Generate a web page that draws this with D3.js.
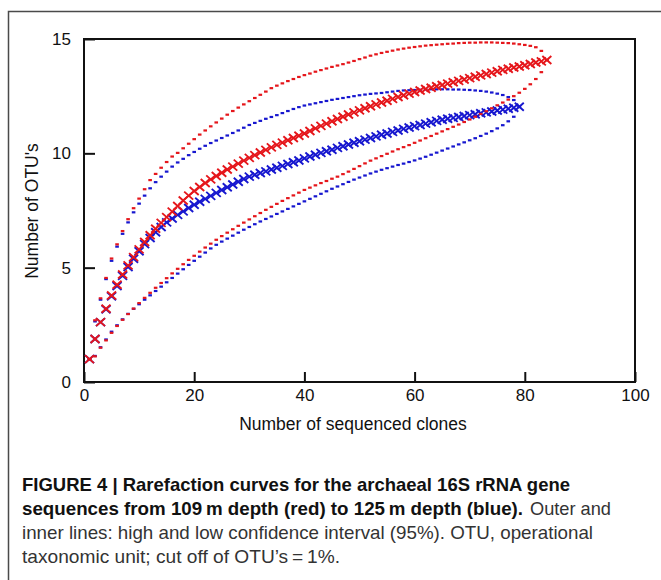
<!DOCTYPE html>
<html>
<head>
<meta charset="utf-8">
<script src="https://cdn.jsdelivr.net/npm/d3@7"></script>
<style>
  body { margin: 0; background: #fff; }
  svg { display: block; font-family: "Liberation Sans", Arial, sans-serif; }
</style>
</head>
<body>
<div id="viz"></div>
<script>
// OTU counts per number of sequenced clones (1, 2, 3, ...)
const red109Mean = [1.00,1.88,2.62,3.20,3.78,4.25,4.70,5.10,5.46,5.80,6.12,6.42,6.70,6.96,7.21,7.45,7.70,7.94,8.15,8.35,
  8.53,8.70,8.86,9.01,9.15,9.29,9.42,9.55,9.68,9.80,9.92,10.04,10.15,10.26,10.37,10.47,10.57,10.67,10.77,10.87,
  10.98,11.09,11.20,11.30,11.40,11.50,11.60,11.70,11.79,11.88,11.97,12.06,12.14,12.22,12.30,12.38,12.46,12.54,12.61,12.68,
  12.75,12.81,12.87,12.93,12.99,13.05,13.11,13.17,13.23,13.29,13.35,13.41,13.47,13.53,13.59,13.65,13.70,13.75,13.80,13.85,
  13.91,13.97,14.02,14.08];
const red109Upper = [1.00,2.70,3.66,4.55,5.40,6.02,6.60,7.12,7.60,8.02,8.43,8.83,9.10,9.37,9.62,9.86,10.02,10.22,10.42,10.62,
  10.82,11.00,11.18,11.35,11.52,11.69,11.85,12.00,12.14,12.28,12.42,12.56,12.70,12.85,12.96,13.06,13.16,13.25,13.34,13.42,
  13.49,13.57,13.64,13.71,13.78,13.84,13.90,13.97,14.04,14.12,14.19,14.27,14.33,14.39,14.44,14.49,14.54,14.58,14.62,14.65,
  14.68,14.71,14.73,14.75,14.77,14.79,14.80,14.82,14.83,14.84,14.84,14.85,14.85,14.85,14.84,14.83,14.82,14.80,14.77,14.74,
  14.70,14.64,14.48,14.08];
const red109Lower = [1.00,1.12,1.50,1.82,2.15,2.45,2.72,2.97,3.21,3.45,3.68,3.90,4.12,4.33,4.54,4.75,4.95,5.15,5.34,5.52,
  5.70,5.88,6.05,6.22,6.38,6.53,6.68,6.83,6.97,7.11,7.25,7.39,7.53,7.66,7.79,7.92,8.04,8.16,8.28,8.40,
  8.50,8.60,8.70,8.79,8.89,8.98,9.09,9.20,9.32,9.44,9.56,9.68,9.78,9.88,9.98,10.08,10.18,10.27,10.36,10.46,
  10.56,10.66,10.76,10.86,10.96,11.06,11.16,11.26,11.37,11.48,11.60,11.72,11.84,11.97,12.10,12.22,12.35,12.50,12.65,12.82,
  13.02,13.25,13.55,14.08];

const blue125Mean = [1.00,1.88,2.62,3.18,3.75,4.20,4.64,5.03,5.39,5.72,6.03,6.30,6.55,6.78,6.98,7.15,7.31,7.46,7.61,7.75,
  7.88,8.01,8.14,8.27,8.40,8.52,8.64,8.76,8.88,8.98,9.06,9.14,9.21,9.29,9.37,9.45,9.53,9.61,9.69,9.78,
  9.86,9.94,10.02,10.09,10.16,10.24,10.31,10.39,10.46,10.53,10.60,10.67,10.74,10.81,10.87,10.94,11.00,11.07,11.13,11.19,
  11.24,11.30,11.36,11.42,11.47,11.51,11.55,11.59,11.63,11.67,11.71,11.75,11.79,11.83,11.87,11.91,11.95,11.99,12.04];
const blue125Upper = [1.00,2.65,3.60,4.50,5.30,5.92,6.48,6.98,7.42,7.80,8.15,8.47,8.74,8.98,9.20,9.42,9.60,9.76,9.92,10.06,
  10.20,10.33,10.45,10.56,10.67,10.78,10.89,11.00,11.12,11.24,11.33,11.42,11.51,11.59,11.67,11.76,11.85,11.94,12.02,12.09,
  12.14,12.19,12.24,12.29,12.34,12.38,12.42,12.46,12.50,12.54,12.57,12.60,12.62,12.64,12.67,12.70,12.73,12.75,12.76,12.77,
  12.78,12.79,12.80,12.80,12.80,12.80,12.79,12.79,12.78,12.77,12.75,12.73,12.70,12.66,12.61,12.55,12.46,12.33,12.04];
const blue125Lower = [1.00,1.14,1.52,1.86,2.20,2.48,2.74,2.98,3.20,3.40,3.60,3.79,3.98,4.17,4.36,4.55,4.74,4.93,5.12,5.30,
  5.48,5.66,5.84,6.00,6.14,6.27,6.40,6.53,6.66,6.78,6.90,7.02,7.13,7.24,7.35,7.46,7.57,7.68,7.79,7.90,
  8.01,8.12,8.23,8.34,8.45,8.55,8.65,8.75,8.85,8.94,9.03,9.12,9.20,9.28,9.35,9.42,9.49,9.55,9.62,9.69,
  9.77,9.85,9.94,10.03,10.12,10.21,10.30,10.39,10.48,10.57,10.66,10.76,10.86,10.97,11.09,11.23,11.40,11.60,12.04];

const xTicks = [0, 20, 40, 60, 80, 100];
const yTicks = [0, 5, 10, 15];

const series = [
  { name: "125 m", color: "#1717cf", mean: blue125Mean, upper: blue125Upper, lower: blue125Lower },
  { name: "109 m", color: "#e5161b", mean: red109Mean, upper: red109Upper, lower: red109Lower }
];

const svg = d3.select("#viz")
  .append("svg")
    .attr("width", 661)
    .attr("height", 580);

// figure frame (clipped at right and bottom)
svg.append("path")
  .attr("d", "M8.5,580V11.5H661")
  .attr("fill", "none")
  .attr("stroke", "#4a4a4a")
  .attr("stroke-width", 1.5);

const x = d3.scaleLinear().domain([0, 100]).range([84, 635]);
const y = d3.scaleLinear().domain([0, 15]).range([382, 39]);

svg.append("g")
  .attr("transform", `translate(${x(0)},0)`)
  .call(d3.axisLeft(y).tickValues(yTicks).tickSize(-11).tickPadding(13))
  .call(g => g.select(".domain").remove())
  .call(g => g.selectAll("line").attr("stroke", "#111").attr("stroke-width", 2))
  .call(g => g.selectAll("text").attr("fill", "#111").style("font-size", "17px").style("font-family", "Liberation Sans, Arial, sans-serif"));

svg.append("g")
  .attr("transform", `translate(0,${y(0)})`)
  .call(d3.axisBottom(x).tickValues(xTicks).tickSize(-10).tickPadding(7))
  .call(g => g.select(".domain").remove())
  .call(g => g.selectAll("line").attr("stroke", "#111").attr("stroke-width", 2))
  .call(g => g.selectAll("text").attr("fill", "#111").style("font-size", "17px").style("font-family", "Liberation Sans, Arial, sans-serif"));

// plot box
svg.append("rect")
  .attr("x", x(0))
  .attr("y", y(15))
  .attr("width", x(100) - x(0))
  .attr("height", y(0) - y(15))
  .attr("fill", "none")
  .attr("stroke", "#111")
  .attr("stroke-width", 2);

// confidence interval dots and mean crosses
series.forEach(s => {
  const g = svg.append("g");
  [s.upper, s.lower].forEach(band => {
    g.selectAll(null)
      .data(band)
      .join("rect")
        .attr("x", (d, i) => x(i + 1) - 1.8)
        .attr("y", d => y(d) - 1.1)
        .attr("width", 3.6)
        .attr("height", 2.2)
        .attr("fill", s.color);
  });
  g.selectAll(null)
    .data(s.mean)
    .join("path")
      .attr("transform", (d, i) => `translate(${x(i + 1)},${y(d)})`)
      .attr("d", "M-4.5,-4L4.5,4M-4.5,4L4.5,-4")
      .attr("fill", "none")
      .attr("stroke", s.color)
      .attr("stroke-width", 1.9);
});

svg.append("text")
  .attr("x", 353)
  .attr("y", 430)
  .attr("text-anchor", "middle")
  .style("font-size", "17.5px")
  .attr("fill", "#111")
  .text("Number of sequenced clones");

svg.append("text")
  .attr("transform", "translate(38,211) rotate(-90)")
  .attr("text-anchor", "middle")
  .style("font-size", "17.5px")
  .attr("fill", "#111")
  .text("Number of OTU's");

// caption
const caption = [
  { x: 22, x2: 570, y: 490.5, bold: true, text: "FIGURE 4 | Rarefaction curves for the archaeal 16S rRNA gene" },
  { x: 22, x2: 523, y: 514.5, bold: true, text: "sequences from 109\u2009m depth (red) to 125\u2009m depth (blue)." },
  { x: 530, x2: 611, y: 514.5, bold: false, text: "Outer and" },
  { x: 22, x2: 593, y: 538.5, bold: false, text: "inner lines: high and low confidence interval (95%). OTU, operational" },
  { x: 22, x2: 340, y: 563, bold: false, text: "taxonomic unit; cut off of OTU\u2019s\u2009=\u20091%." }
];

svg.selectAll("text.caption")
  .data(caption)
  .join("text")
    .attr("class", "caption")
    .attr("x", d => d.x)
    .attr("y", d => d.y)
    .attr("textLength", d => d.x2 - d.x)
    .attr("lengthAdjust", "spacingAndGlyphs")
    .style("font-size", "18.5px")
    .style("font-weight", d => d.bold ? "bold" : "normal")
    .attr("fill", d => d.bold ? "#111" : "#333")
    .text(d => d.text);
</script>
</body>
</html>
